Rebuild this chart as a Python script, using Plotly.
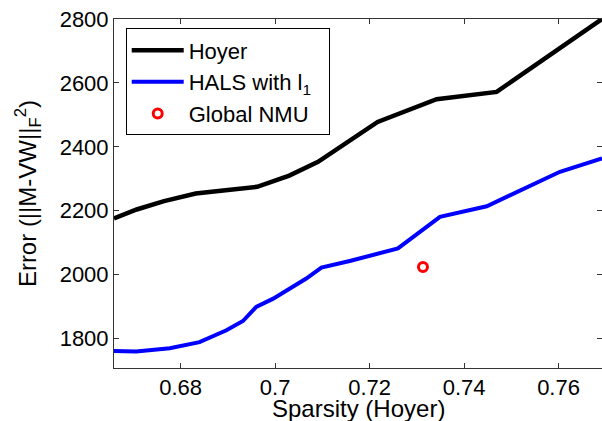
import plotly.graph_objects as go

hoyer_x = [0.6659, 0.6707, 0.6765, 0.6832, 0.6900, 0.6962, 0.7030, 0.7091, 0.7217, 0.7342, 0.7469, 0.7602, 0.7692]
hoyer_y = [2176, 2204, 2230, 2254, 2265, 2275, 2310, 2353, 2478, 2549, 2572, 2708, 2800]

hals_x = [0.6659, 0.6706, 0.6777, 0.6840, 0.6897, 0.6932, 0.6960, 0.6996, 0.7066, 0.7098, 0.7158, 0.7260, 0.7349, 0.7448, 0.7603, 0.7692]
hals_y = [1761, 1760, 1770, 1789, 1826, 1855, 1899, 1925, 1988, 2022, 2043, 2082, 2181, 2214, 2322, 2364]

nmu_x = [0.7313]
nmu_y = [2024]

x_ticks = [0.68, 0.70, 0.72, 0.74, 0.76]
x_ticklabels = ["0.68", "0.7", "0.72", "0.74", "0.76"]
y_ticks = [1800, 2000, 2200, 2400, 2600, 2800]

x_title = "Sparsity (Hoyer)"
y_title = "Error (||M-VW||<sub>F</sub><sup>2</sup>)"

FONT = "Liberation Sans, Arial, sans-serif"

fig = go.Figure()
fig.add_trace(go.Scatter(x=hoyer_x, y=hoyer_y, mode="lines", name="Hoyer",
                         line=dict(color="black", width=4.5)))
fig.add_trace(go.Scatter(x=hals_x, y=hals_y, mode="lines", name="HALS with l<sub>1</sub>&nbsp;&nbsp;",
                         line=dict(color="#0000ff", width=4)))
fig.add_trace(go.Scatter(x=nmu_x, y=nmu_y, mode="markers", name="Global NMU",
                         marker=dict(symbol="circle-open", size=9, color="#ff0000",
                                     line=dict(color="#ff0000", width=3))))

axis_common = dict(showgrid=False, zeroline=False, showline=True, linecolor="#333333",
                   linewidth=1, mirror="ticks", ticks="inside", ticklen=5,
                   tickcolor="#333333", automargin=False,
                   tickfont=dict(family=FONT, size=22, color="black"))

fig.update_xaxes(range=[0.6659, 0.7692], tickvals=x_ticks, ticktext=x_ticklabels, **axis_common)
fig.update_yaxes(range=[1708, 2800], tickvals=y_ticks, **axis_common)

fig.add_annotation(text=x_title, xref="paper", yref="paper", x=0.5, y=-0.071,
                   xanchor="center", yanchor="top", showarrow=False,
                   font=dict(family=FONT, size=24, color="black"))
fig.add_annotation(text=y_title, xref="paper", yref="paper", x=-0.177, y=0.5,
                   xanchor="center", yanchor="middle", textangle=-90, showarrow=False,
                   font=dict(family=FONT, size=24, color="black"))

fig.update_layout(
    width=602, height=421,
    margin=dict(l=114, r=0, t=19, b=53, autoexpand=False),
    paper_bgcolor="white", plot_bgcolor="white",
    font=dict(family=FONT, size=22, color="black"),
    legend=dict(x=0.024, y=0.973, xanchor="left", yanchor="top",
                bordercolor="black", borderwidth=1, bgcolor="white",
                font=dict(family=FONT, size=22, color="black"),
                tracegroupgap=0, itemwidth=52),
    showlegend=True,
)

fig.write_html("out.html", config={"displayModeBar": False},
               post_script="document.body.style.margin='0';document.body.style.padding='0';")
